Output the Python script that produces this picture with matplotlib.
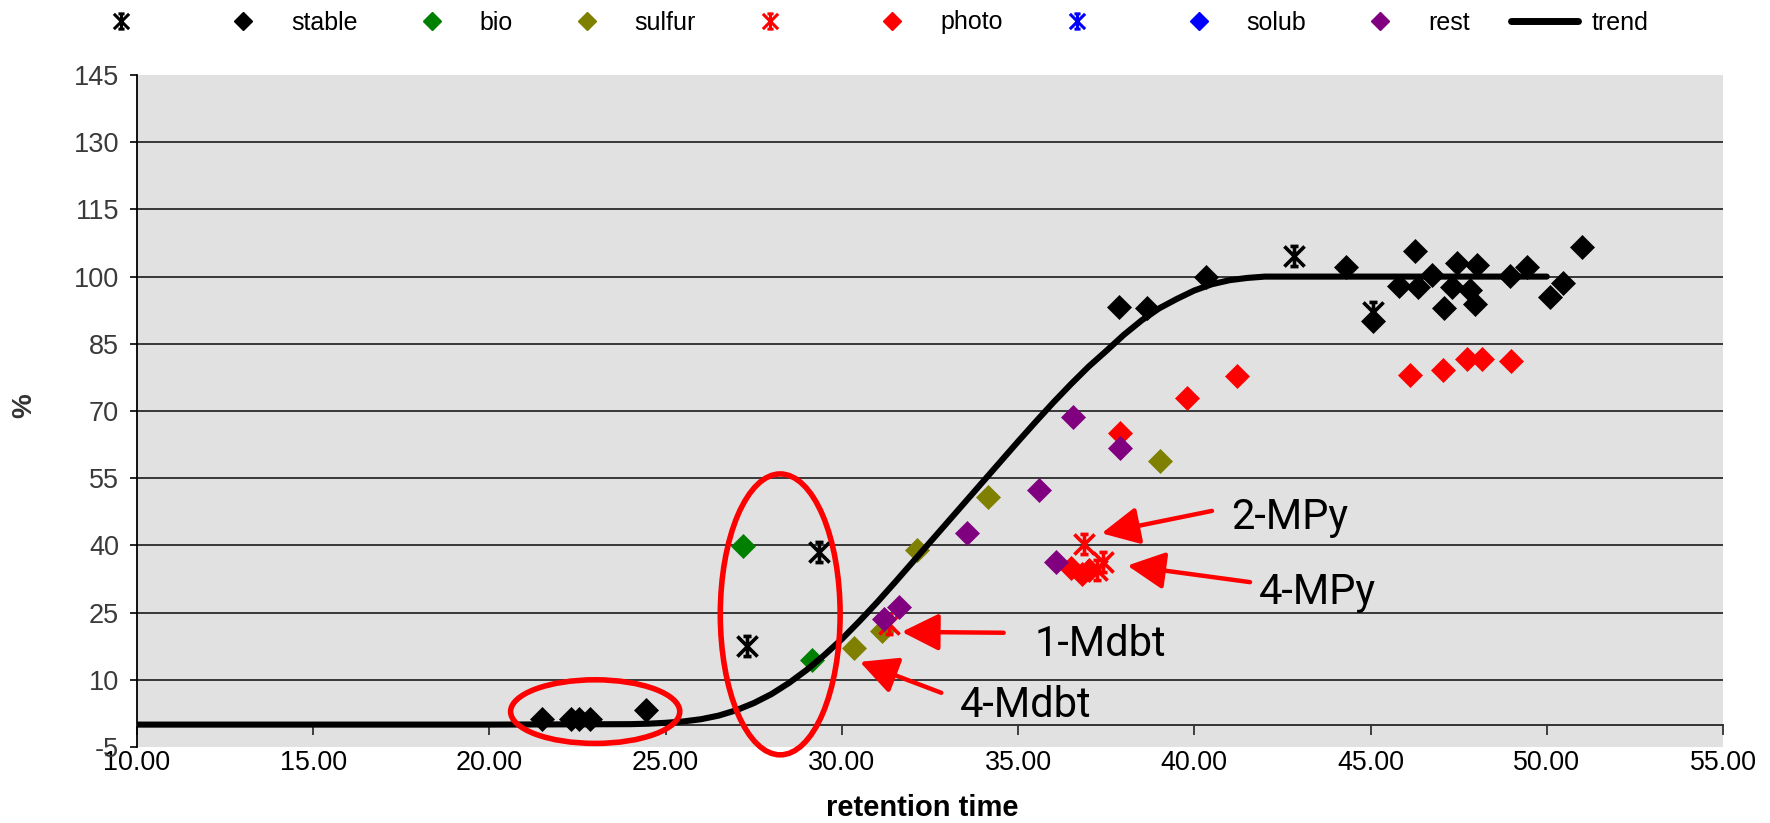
import matplotlib
matplotlib.use("Agg")
import matplotlib.pyplot as plt
from matplotlib import font_manager as fm
from matplotlib.path import Path
from matplotlib.lines import Line2D
from matplotlib.patches import Ellipse

# ---------------- data ----------------
star_black_x = [27.32, 29.35, 42.82, 45.07]
star_black_y = [17.6, 38.6, 104.7, 92.2]

stable_x = [21.5, 22.3, 22.55, 22.85, 24.45, 37.87, 38.65, 40.33, 44.31, 45.08,
            45.82, 46.27, 46.36, 46.74, 47.07, 47.31, 47.45, 47.83, 47.97, 48.02,
            48.96, 49.43, 50.08, 50.46, 51.0]
stable_y = [1.3, 1.3, 1.3, 1.3, 3.2, 93.3, 92.9, 99.8, 102.1, 90.2,
            98.0, 105.8, 97.6, 100.4, 93.0, 97.6, 103.0, 96.9, 93.9, 102.7,
            100.2, 102.2, 95.5, 98.5, 106.5]

bio_x = [27.2, 29.16]
bio_y = [39.8, 14.4]

sulfur_x = [30.34, 31.13, 32.14, 34.14, 39.03]
sulfur_y = [17.1, 21.0, 39.0, 50.7, 58.8]

star_red_x = [31.35, 36.86, 37.25, 37.42]
star_red_y = [22.5, 40.3, 34.5, 36.4]

photo_x = [36.5, 36.8, 37.0, 37.9, 39.79, 41.2, 46.13, 47.05, 47.74, 48.17, 48.98]
photo_y = [34.9, 33.7, 34.6, 65.2, 72.8, 77.8, 78.0, 79.1, 81.7, 81.7, 81.2]

star_blue_x = []
star_blue_y = []

solub_x = []
solub_y = []

rest_x = [31.19, 31.61, 33.54, 35.6, 36.08, 36.55, 37.9]
rest_y = [23.65, 26.3, 42.7, 52.4, 36.4, 68.6, 61.7]

trend_x = [10, 20, 24, 24.5, 25, 25.5, 26, 26.5, 27, 27.5, 28, 28.5, 29, 29.5, 30,
           30.5, 31, 31.5, 32, 32.5, 33, 33.5, 34, 34.5, 35, 35.5, 36, 36.5, 37,
           37.5, 38, 38.5, 39, 39.5, 40, 40.5, 41, 41.5, 42, 43, 50]
trend_y = [0, 0, 0.1, 0.2, 0.4, 0.7, 1.2, 2.0, 3.2, 4.8, 6.8, 9.3, 12.2, 15.5, 19.1,
           23.1, 27.3, 31.7, 36.2, 40.7, 45.2, 49.7, 54.2, 58.7, 63.2, 67.6, 71.9, 76.0, 79.9,
           83.4, 87.0, 90.2, 92.9, 95.0, 96.9, 98.3, 99.2, 99.7, 100, 100, 100]

xticks = [10, 15, 20, 25, 30, 35, 40, 45, 50, 55]
yticks = [-5, 10, 25, 40, 55, 70, 85, 100, 115, 130, 145]

legend_labels = ["", "stable", "bio", "sulfur", "", "photo", "", "solub", "rest", "trend"]

# annotations: (label, arrow head, arrow tail, text position)
notes = [
    ("2-MPy", (37.37, 42.7), (40.5, 47.7), (41.05, 43.7)),
    ("4-MPy", (38.1, 35.5), (41.58, 31.8), (41.84, 27.0)),
    ("1-Mdbt", (31.70, 20.7), (34.59, 20.5), (35.48, 15.4)),
    ("4-Mdbt", (30.51, 14.0), (32.82, 7.1), (33.34, 1.6)),
]

# ---------------- fonts ----------------
avail = {f.name for f in fm.fontManager.ttflist}
if "Liberation Sans Narrow" in avail:
    NARROW, NK = "Liberation Sans Narrow", 1.0
else:
    NARROW, NK = "Liberation Sans", 0.84

# ---------------- styling ----------------
W, H = 1770, 823
fig = plt.figure(figsize=(W / 100, H / 100), dpi=100)
ax = fig.add_axes([137 / W, 1 - 747 / H, (1723 - 137) / W, (747 - 75) / H])
ax.set_facecolor("#e1e1e1")

STAR = Path([(-0.5, -0.5), (0.5, 0.5), (-0.5, 0.5), (0.5, -0.5), (0, -0.5), (0, 0.5),
             (-0.2, 0.5), (0.2, 0.5), (-0.2, -0.5), (0.2, -0.5)],
            [Path.MOVETO, Path.LINETO] * 5)

for v in yticks[1:-1]:
    ax.axhline(v, color="#1a1a1a", lw=1.2, zorder=1)

DMS = 12.5
SMS = 14.5


def stars(x, y, c):
    ax.plot(x, y, ls="none", marker=STAR, ms=SMS, mew=2.6, color=c, zorder=3)


def diamonds(x, y, c):
    ax.plot(x, y, ls="none", marker="D", ms=DMS, mfc=c, mec=c, mew=0.5, zorder=3)


stars(star_black_x, star_black_y, "black")
diamonds(stable_x, stable_y, "black")
diamonds(bio_x, bio_y, "#008000")
diamonds(sulfur_x, sulfur_y, "#808000")
stars(star_red_x, star_red_y, "#ff0000")
diamonds(photo_x, photo_y, "#ff0000")
stars(star_blue_x, star_blue_y, "#0000ff")
diamonds(solub_x, solub_y, "#0000ff")
diamonds(rest_x, rest_y, "#800080")
ax.plot(trend_x, trend_y, color="black", lw=4.4, solid_capstyle="round",
        solid_joinstyle="round", zorder=4)

ax.set_xlim(10, 55)
ax.set_ylim(-5, 145)

for s in ["top", "right"]:
    ax.spines[s].set_visible(False)
ax.spines["bottom"].set_position(("data", 0))
ax.spines["bottom"].set_color("#333333")
ax.spines["bottom"].set_linewidth(1.4)
ax.spines["left"].set_color("black")
ax.spines["left"].set_linewidth(1.3)

ax.set_xticks(xticks)
ax.set_xticks(xticks, [f"{v:.2f}" for v in xticks])
ax.set_yticks(yticks, [str(v) for v in yticks])
for lab in ax.get_xticklabels():
    lab.set_family(NARROW)
    lab.set_fontsize(23 * NK)
    lab.set_color("black")
for lab in ax.get_yticklabels():
    lab.set_family("Liberation Sans")
    lab.set_fontsize(19.5)
    lab.set_color("#3a3a3a")
ax.tick_params(axis="x", direction="out", length=7, width=1.3, pad=11, colors="#333333",
               labelcolor="black", labelsize=23 * NK)
ax.tick_params(axis="y", direction="out", length=5, width=1.2, pad=8, colors="black",
               labelcolor="#3a3a3a", labelsize=19.5)

fig.text(24 / W, 1 - 406 / H, "%", rotation=90, ha="center", va="center",
         fontsize=20, fontweight="bold", family="Liberation Sans", color="#333333")
fig.text(922 / W, 1 - 808 / H, "retention time", ha="center", va="center",
         fontsize=21, fontweight="bold", family="Liberation Sans", color="black")

# ellipses
ax.add_patch(Ellipse((23.0, 2.9), 4.8, 14.2, fill=False, ec="#ff0000", lw=4,
                     clip_on=False, zorder=6))
ax.add_patch(Ellipse((28.25, 24.6), 3.4, 62.7, fill=False, ec="#ff0000", lw=4,
                     clip_on=False, zorder=6))

for label, head, tail, tpos in notes:
    ax.annotate("", xy=head, xytext=tail,
                arrowprops=dict(arrowstyle="-|>,head_length=0.6,head_width=0.3",
                                color="#ff0000", lw=3.2, mutation_scale=38,
                                shrinkA=0, shrinkB=0), zorder=7)
    ax.text(tpos[0], tpos[1], label, ha="left", va="baseline", fontsize=30,
            family="Roboto", color="black", zorder=7)

# legend
colors = ["black", "black", "#008000", "#808000", "#ff0000", "#ff0000",
          "#0000ff", "#0000ff", "#800080"]
handles = []
for i, c in enumerate(colors):
    if legend_labels[i] == "":
        handles.append(Line2D([], [], ls="none", marker=STAR, ms=11, mew=2.2, color=c))
    else:
        handles.append(Line2D([], [], ls="none", marker="D", ms=9.5, mfc=c, mec=c))
handles.append(Line2D([], [], color="black", lw=5, solid_capstyle="round"))

fig.legend(handles, legend_labels, ncol=10, loc="center left",
           bbox_to_anchor=(87.5 / W, 1 - 22.5 / H), frameon=False,
           prop={"family": "Liberation Sans", "size": 18},
           handlelength=2.68, handletextpad=0.58, columnspacing=1.62,
           borderpad=0, borderaxespad=0, numpoints=1)

fig.savefig("out.png", dpi=100)
